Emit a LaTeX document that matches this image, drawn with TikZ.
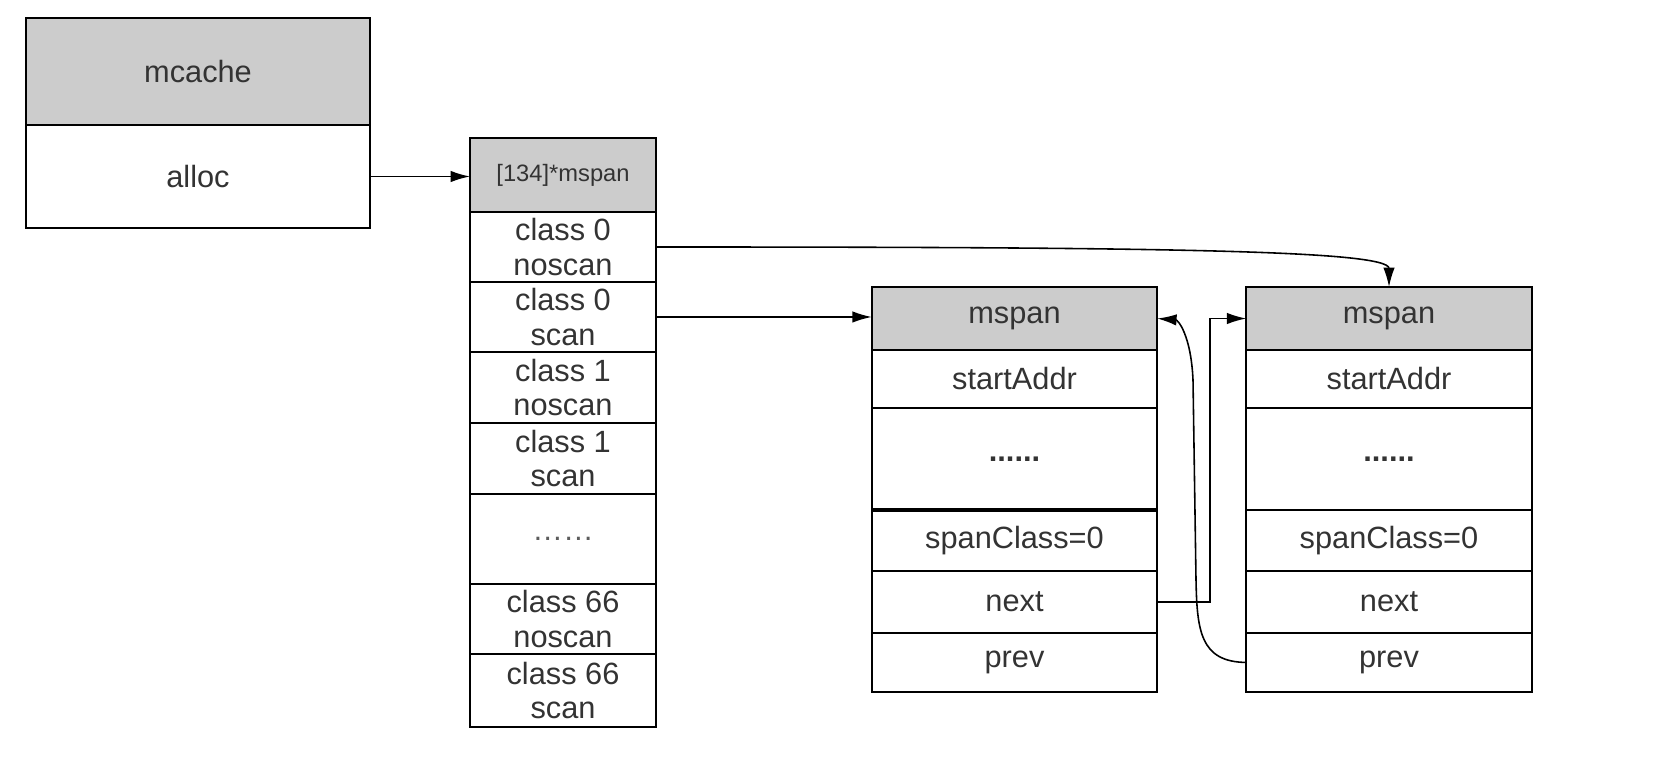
\documentclass[tikz,border=0pt]{standalone}
\usepackage{fontspec}
\setmainfont{Liberation Sans}
\usetikzlibrary{arrows.meta}
\definecolor{hdgray}{HTML}{CCCCCC}
\definecolor{txtgray}{HTML}{333333}
\tikzset{
  cell/.style={draw,line width=1.1pt,inner sep=0pt,outer sep=0pt,align=center,
    text=txtgray,font=\fontsize{17.5}{19.5}\selectfont},
  head/.style={cell,fill=hdgray},
  below of cell/.style={cell,anchor=north,at=(#1.south)},
  link/.style={line width=0.9pt,-{Latex[length=11pt,width=6.5pt]}}
}
\begin{document}
\begin{tikzpicture}[x=0.02cm,y=-0.02cm]
\useasboundingbox (0,0) rectangle (1662,782);
% mcache
\node[head,minimum width=6.88cm,minimum height=2.14cm] (mc) at (198,71.5) {mcache};
\node[below of cell=mc,minimum width=6.88cm,minimum height=2.06cm] (al) {alloc};
% the alloc array
\node[head,minimum width=3.72cm,minimum height=1.48cm,font=\fontsize{13.5}{15}\selectfont] (arr) at (563,175) {[134]*mspan};
\node[below of cell=arr,minimum width=3.72cm,minimum height=1.40cm] (c0n) {class 0\\noscan};
\node[below of cell=c0n,minimum width=3.72cm,minimum height=1.40cm] (c0s) {class 0\\scan};
\node[below of cell=c0s,minimum width=3.72cm,minimum height=1.42cm] (c1n) {class 1\\noscan};
\node[below of cell=c1n,minimum width=3.72cm,minimum height=1.42cm] (c1s) {class 1\\scan};
\node[below of cell=c1s,minimum width=3.72cm,minimum height=1.80cm,text=txtgray!80] (cdt) {……};
\node[below of cell=cdt,minimum width=3.72cm,minimum height=1.40cm] (c66n) {class 66\\noscan};
\node[below of cell=c66n,minimum width=3.72cm,minimum height=1.46cm] (c66s) {class 66\\scan};
% two mspans
\foreach \b/\x in {a/1014.5,b/1389}{
  \node[head,minimum width=5.71cm,minimum height=1.26cm] (\b hd) at (\x,318.5) {mspan};
  \node[below of cell=\b hd,minimum width=5.71cm,minimum height=1.16cm] (\b st) {startAddr};
  \node[below of cell=\b st,minimum width=5.71cm,minimum height=2.04cm] (\b dt) {\textbf{......}};
  \node[below of cell=\b dt,minimum width=5.71cm,minimum height=1.22cm] (\b sc) {spanClass=0};
  \node[below of cell=\b sc,minimum width=5.71cm,minimum height=1.24cm] (\b nx) {next};
  \node[below of cell=\b nx,minimum width=5.71cm,minimum height=1.18cm] (\b pv) {prev};
}
\draw[line width=2.2pt] (adt.south west) -- (adt.south east);
% pointers
\draw[link] (al.east) -- (al.east -| arr.west);
\draw[link] (c0s.east) -- (c0s.east -| ahd.west);
\draw[link] (c0n.east) .. controls (1150,247) and (1389,250) .. (bhd.north);
\draw[link] (anx.east) -- ++(53,0) |- (bhd.west);
\draw[link] (bpv.west) .. controls (1200,662) and (1197,630) .. (1196,580)
  -- (1193,380) .. controls (1191,335) and (1178,320) .. (ahd.east);
\end{tikzpicture}
\end{document}
